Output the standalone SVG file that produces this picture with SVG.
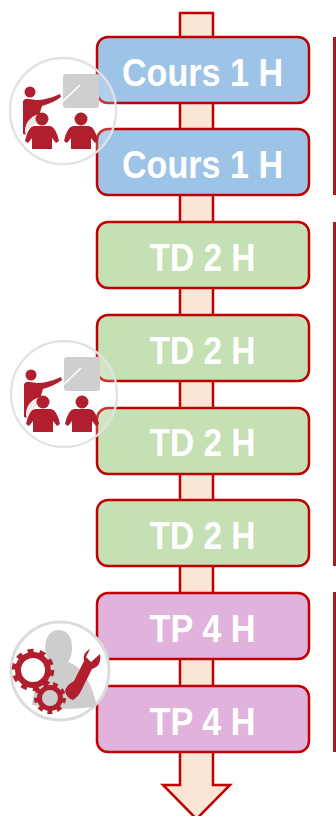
<svg xmlns="http://www.w3.org/2000/svg" width="336" height="816" viewBox="0 0 336 816">
<style>
.b{stroke:#c00000;stroke-width:2.5}
.t{font-family:"Liberation Sans",Arial,sans-serif;font-weight:700;font-size:39px;fill:#fff;text-anchor:middle}
.c{fill:#9dc3e6}.g{fill:#c5e0b4}.p{fill:#e0b2dc}
.r{fill:#b01f2e}
.o{fill:#fff;fill-opacity:.2;stroke:#e2e2e2;stroke-width:2.4}
</style>
<defs>
<g id="teach">
<circle class="o" cx="0" cy="0" r="53"/>
<rect x="0" y="-37" width="36" height="34" rx="3" fill="#cfcfcf"/>
<path d="M-2-8 L17-26" stroke="#fff" stroke-width="1.600" fill="none"/>
<circle class="r" cx="-33" cy="-19" r="5.500"/>
<path class="r" d="M-40-10 Q-38-13-34-12 L-27-11 Q-16-11-3-17 L-2-14 Q-10-8-21-5 L-25 8 L-37 24 L-40 23Z"/>
<circle cx="-21" cy="20" r="17" fill="#fff" fill-opacity=".9"/>
<circle class="r" cx="-21" cy="8" r="6.500"/>
<circle class="r" cx="18" cy="8" r="6.500"/>
<path class="r" d="M-29 15 L-13 15 Q-7 16-4 30 L-7 32 L-11 27 L-11 38 L-31 38 L-31 27 L-35 32 L-38 30 Q-35 16-29 15Z"/>
<path class="r" d="M10 15 L26 15 Q32 16 35 30 L32 32 L28 27 L28 38 L8 38 L8 27 L4 32 L1 30 Q4 16 10 15Z"/>
</g>
</defs>
<g id="arrow"><path d="M180 13 H213 V785 H230 L196.500 819 L163 785 H180Z" fill="#fbe5d6" class="b"/></g>
<g id="brackets" fill="none" stroke="#a51c1c" stroke-width="3">
<path d="M334.500 37V195"/>
<path d="M334.500 222V566"/>
<path d="M334.500 592V752"/>
</g>
<g id="n1"><rect class="b c" x="97" y="37" width="212" height="66" rx="11"/><text class="t" x="202.500" y="86" textLength="161" lengthAdjust="spacingAndGlyphs">Cours 1 H</text></g>
<g id="n2"><rect class="b c" x="97" y="129" width="212" height="66" rx="11"/><text class="t" x="202.500" y="178" textLength="161" lengthAdjust="spacingAndGlyphs">Cours 1 H</text></g>
<g id="n3"><rect class="b g" x="97" y="222" width="212" height="66" rx="11"/><text class="t" x="202.500" y="271" textLength="106" lengthAdjust="spacingAndGlyphs">TD 2 H</text></g>
<g id="n4"><rect class="b g" x="97" y="315" width="212" height="66" rx="11"/><text class="t" x="202.500" y="364" textLength="106" lengthAdjust="spacingAndGlyphs">TD 2 H</text></g>
<g id="n5"><rect class="b g" x="97" y="408" width="212" height="66" rx="11"/><text class="t" x="202.500" y="456" textLength="106" lengthAdjust="spacingAndGlyphs">TD 2 H</text></g>
<g id="n6"><rect class="b g" x="97" y="500" width="212" height="66" rx="11"/><text class="t" x="202.500" y="549" textLength="106" lengthAdjust="spacingAndGlyphs">TD 2 H</text></g>
<g id="n7"><rect class="b p" x="97" y="593" width="212" height="66" rx="11"/><text class="t" x="202.500" y="642" textLength="106" lengthAdjust="spacingAndGlyphs">TP 4 H</text></g>
<g id="n8"><rect class="b p" x="97" y="686" width="212" height="66" rx="11"/><text class="t" x="202.500" y="735" textLength="106" lengthAdjust="spacingAndGlyphs">TP 4 H</text></g>
<g id="icon1" transform="translate(63,111)"><use href="#teach"/></g>
<g id="icon2" transform="translate(64,394)"><use href="#teach"/></g>
<g id="icon3">
<circle cx="60" cy="671" r="49" fill="#fff" stroke="#dcdcdc" stroke-width="3"/>
<path d="M45 648 Q46 630 59 630 Q72 631 72 648 Q72 656 68 662 Q88 668 97 706 Q70 712 32 705 Q34 680 52 668 Q46 660 45 648Z" fill="#cdcdcd"/>
<circle cx="33" cy="670" r="15" fill="#fff" fill-opacity=".8" stroke="#b01f2e" stroke-width="6"/>
<circle cx="33" cy="670" r="19" fill="none" stroke="#b01f2e" stroke-width="4.500" stroke-dasharray="5.970 5.970"/>
<circle cx="50" cy="698" r="10.500" fill="#cdcdcd" stroke="#b01f2e" stroke-width="5"/>
<circle cx="50" cy="698" r="14" fill="none" stroke="#b01f2e" stroke-width="4" stroke-dasharray="4.890 4.890"/>
<path class="r" d="M90 649 L86 657 L91 662 L100 654 Q102 666 92 669 L81 691 Q78 697 73 700 Q66 698 65 690 Q68 684 74 681 L84 661 Q82 653 90 649Z"/>
</g>
</svg>
